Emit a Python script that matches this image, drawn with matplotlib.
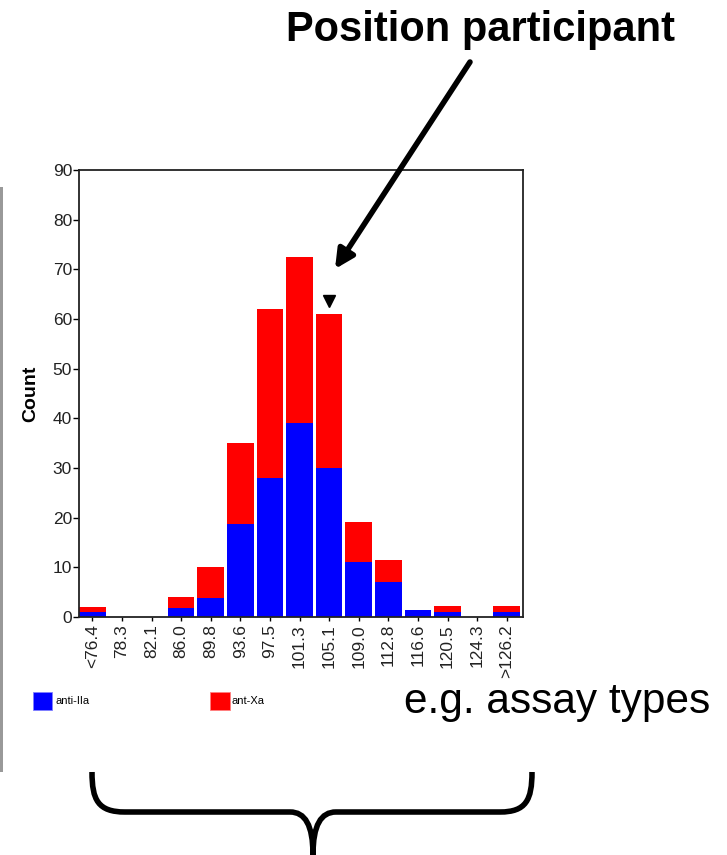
import matplotlib
matplotlib.use("Agg")
from matplotlib import pyplot as plt
from matplotlib.patches import Rectangle, PathPatch
from matplotlib.path import Path
from matplotlib.transforms import Affine2D
import numpy as np

plt.rcParams['font.family'] = ['Liberation Sans', 'DejaVu Sans']

bins = ["<76.4", "78.3", "82.1", "86.0", "89.8", "93.6", "97.5", "101.3",
        "105.1", "109.0", "112.8", "116.6", "120.5", "124.3", ">126.2"]
anti_iia = [1, 0, 0, 1.8, 3.9, 18.8, 28, 39, 30, 11, 7, 1.4, 1, 0, 1]
anti_xa = [1, 0, 0, 2.2, 6.1, 16.2, 34, 33.4, 31, 8.2, 4.5, 0, 1.2, 0, 1.2]
participant_bin = 8  # 105.1

W, H = 727, 855
fig = plt.figure(figsize=(W / 100, H / 100), dpi=100)
px = Affine2D().scale(1 / W, -1 / H).translate(0, 1) + fig.transFigure  # pixel coords, top-left origin

ax = fig.add_axes([79 / W, 1 - 617 / H, 444 / W, 447 / H])
x = np.arange(len(bins))
ax.bar(x, anti_iia, width=0.9, color="#0000ff", label="anti-IIa")
ax.bar(x, anti_xa, width=0.9, bottom=anti_iia, color="#ff0000", label="ant-Xa")

top = anti_iia[participant_bin] + anti_xa[participant_bin]
ax.plot(participant_bin, top + 2.6, marker="v", color="black", markersize=9)

ax.set_xlim(-0.45, 14.55)
ax.set_ylim(0, 90)
ax.set_yticks(range(0, 91, 10))
ax.set_xticks(x)
ax.set_xticklabels(bins, rotation=90, fontsize=12.5, color="#222222")
ax.tick_params(axis="y", labelsize=12.5, labelcolor="#222222", length=4, width=1, pad=1)
ax.tick_params(axis="x", length=3, width=1, pad=2)
for s in ax.spines.values():
    s.set_linewidth(1.3)
    s.set_color("#222222")
ax.set_ylabel("Count", fontsize=14, fontweight="bold", labelpad=10)

# legend drawn by hand
fig.patches.append(Rectangle((33, 692), 19, 18, transform=px, facecolor="#0000ff", edgecolor="#8080ff", lw=0.6))
fig.text(55, 701, "anti-IIa", transform=px, fontsize=8, va="center", ha="left")
fig.patches.append(Rectangle((210, 692), 20, 18, transform=px, facecolor="#ff0000", edgecolor="#ff8080", lw=0.6))
fig.text(232, 701, "ant-Xa", transform=px, fontsize=8, va="center", ha="left")

# gray bar at the left edge
fig.patches.append(Rectangle((0, 187), 3, 585, transform=px, facecolor="#999999", edgecolor="none"))

fig.text(480, 30, "Position participant", transform=px, fontsize=30, fontweight="bold",
         ha="center", va="center")
fig.text(557, 702, "e.g. assay types", transform=px, fontsize=30.5, ha="center", va="center")

ax.annotate("", xy=(335 / W, 1 - 269 / H), xytext=(470 / W, 1 - 62 / H),
            xycoords="figure fraction", textcoords="figure fraction",
            arrowprops=dict(arrowstyle="-|>", lw=4, mutation_scale=28, color="black",
                            shrinkA=0, shrinkB=0))

# curly brace under the chart
verts = [(92, 772), (92, 800), (98, 812), (125, 812),
         (290, 812), (305, 812), (313, 825), (313, 855),
         (313, 825), (321, 812), (336, 812),
         (500, 812), (526, 812), (532, 800), (532, 772)]
codes = [Path.MOVETO, Path.CURVE4, Path.CURVE4, Path.CURVE4,
         Path.LINETO, Path.CURVE4, Path.CURVE4, Path.CURVE4,
         Path.CURVE4, Path.CURVE4, Path.CURVE4,
         Path.LINETO, Path.CURVE4, Path.CURVE4, Path.CURVE4]
fig.patches.append(PathPatch(Path(verts, codes), transform=px, facecolor="none",
                             edgecolor="black", lw=4, capstyle="butt"))

fig.savefig("out.png", dpi=100)
